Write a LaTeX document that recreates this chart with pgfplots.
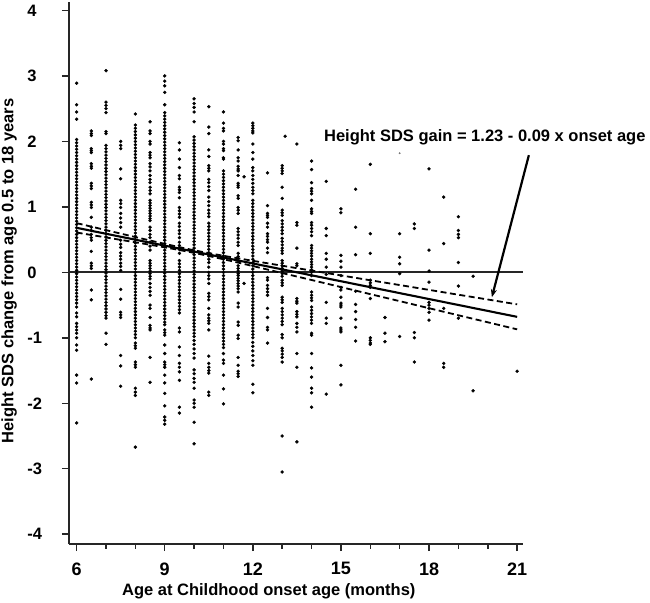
\documentclass[border=0pt]{standalone}
\usepackage{pgfplots}
\pgfplotsset{compat=1.18}
\usetikzlibrary{arrows.meta}
\usepackage{fontspec}
\setmainfont{Liberation Sans}
\begin{document}
\begin{tikzpicture}
\useasboundingbox (-69pt,-58pt) rectangle (581pt,544pt);
\begin{axis}[
  at={(0,0)}, anchor=south west,
  scale only axis, width=454pt, height=542pt,
  xmin=5.74, xmax=21.2, ymin=-4.15, ymax=4.13,
  axis lines=left,
  axis line style={-, line width=2.2pt, black!85},
  xtick={6,9,12,15,18,21},
  minor x tick num=2,
  ytick={-4,-3,-2,-1,0,1,2,3,4},
  tick align=outside,
  major tick length=7pt,
  minor tick length=4.5pt,
  every tick/.style={black!85, line width=1.5pt},
  /pgf/number format/assume math mode=true,
  xticklabel style={font=\bfseries\fontsize{18}{21}\selectfont, yshift=-8pt},
  yticklabel style={font=\bfseries\fontsize{16.5}{19}\selectfont, text width=18pt, align=left, xshift=-13pt},
  xlabel={\bfseries Age at Childhood onset age (months)},
  ylabel={\bfseries Height SDS change from age 0.5 to 18 years},
  label style={font=\bfseries\fontsize{16.5}{19}\selectfont},
  xlabel style={at={(axis description cs:0.44,-0.0867)}, anchor=center},
  ylabel style={at={(axis description cs:-0.132,0.504)}, anchor=center},
  clip=false,
  pts/.style={only marks, mark=*, mark size=1.5pt, black, mark options={draw=black, fill=black, line width=0.4pt}},
]
% zero line
\addplot[black!85, line width=1.7pt] coordinates {(5.74,0)(21.2,0)};

% ----- data columns -----
\addplot[pts] coordinates {(6,2.89)(6,2.56)(6,2.45)(6,2.34)(6,2.03)(6,1.98)(6,1.93)(6,1.88)(6,1.83)(6,1.78)(6,1.73)(6,1.68)(6,1.63)(6,1.58)(6,1.53)(6,1.48)(6,1.43)(6,1.38)(6,1.33)(6,1.28)(6,1.23)(6,1.18)(6,1.13)(6,1.08)(6,1.03)(6,0.98)(6,0.93)(6,0.88)(6,0.83)(6,0.78)(6,0.73)(6,0.68)(6,0.63)(6,0.58)(6,0.53)(6,0.48)(6,0.43)(6,0.38)(6,0.33)(6,0.28)(6,0.23)(6,0.18)(6,0.13)(6,0.08)(6,0.03)(6,-0.02)(6,-0.07)(6,-0.12)(6,-0.17)(6,-0.22)(6,-0.27)(6,-0.32)(6,-0.37)(6,-0.42)(6,-0.47)(6,-0.53)(6,-0.62)(6,-0.68)(6,-0.78)(6,-0.83)(6,-0.88)(6,-0.93)(6,-1.0)(6,-1.11)(6,-1.19)(6,-1.57)(6,-1.69)(6,-2.3)};

\addplot[pts] coordinates {(6.5,2.16)(6.5,2.12)(6.5,2.09)(6.5,1.89)(6.5,1.86)(6.5,1.83)(6.5,1.66)(6.5,1.62)(6.5,1.59)(6.5,1.36)(6.5,1.32)(6.5,1.28)(6.5,1.07)(6.5,1.03)(6.5,0.99)(6.5,0.84)(6.5,0.69)(6.5,0.64)(6.5,0.58)(6.5,0.53)(6.5,0.49)(6.5,0.32)(6.5,0.14)(6.5,0.1)(6.5,0.06)(6.5,-0.27)(6.5,-0.42)(6.5,-1.63)};

\addplot[pts] coordinates {(7,3.08)(7,2.6)(7,2.55)(7,2.5)(7,2.44)(7,2.15)(7,2.12)(7,1.94)(7,1.89)(7,1.84)(7,1.79)(7,1.74)(7,1.69)(7,1.64)(7,1.59)(7,1.54)(7,1.49)(7,1.44)(7,1.39)(7,1.34)(7,1.29)(7,1.24)(7,1.19)(7,1.14)(7,1.09)(7,1.04)(7,0.99)(7,0.94)(7,0.89)(7,0.84)(7,0.79)(7,0.74)(7,0.69)(7,0.64)(7,0.59)(7,0.54)(7,0.49)(7,0.44)(7,0.39)(7,0.34)(7,0.29)(7,0.24)(7,0.19)(7,0.14)(7,0.09)(7,0.04)(7,-0.01)(7,-0.06)(7,-0.11)(7,-0.16)(7,-0.21)(7,-0.26)(7,-0.31)(7,-0.36)(7,-0.41)(7,-0.46)(7,-0.51)(7,-0.56)(7,-0.61)(7,-0.66)(7,-0.7)(7,-0.93)(7,-1.1)};

\addplot[pts] coordinates {(7.5,2.0)(7.5,1.94)(7.5,1.89)(7.5,1.58)(7.5,1.43)(7.5,1.1)(7.5,1.05)(7.5,0.99)(7.5,0.9)(7.5,0.83)(7.5,0.76)(7.5,0.69)(7.5,0.49)(7.5,0.43)(7.5,0.38)(7.5,0.3)(7.5,0.25)(7.5,0.2)(7.5,0.14)(7.5,0.09)(7.5,0.03)(7.5,-0.26)(7.5,-0.41)(7.5,-0.61)(7.5,-0.65)(7.5,-0.69)(7.5,-1.27)(7.5,-1.43)(7.5,-1.74)};

\addplot[pts] coordinates {(8,2.42)(8,2.25)(8,2.2)(8,2.15)(8,2.1)(8,2.05)(8,2.0)(8,1.95)(8,1.9)(8,1.85)(8,1.8)(8,1.75)(8,1.7)(8,1.65)(8,1.6)(8,1.55)(8,1.5)(8,1.45)(8,1.4)(8,1.35)(8,1.3)(8,1.25)(8,1.2)(8,1.15)(8,1.1)(8,1.05)(8,1.0)(8,0.95)(8,0.9)(8,0.85)(8,0.8)(8,0.75)(8,0.7)(8,0.65)(8,0.6)(8,0.55)(8,0.5)(8,0.45)(8,0.4)(8,0.35)(8,0.3)(8,0.25)(8,0.2)(8,0.15)(8,0.1)(8,0.05)(8,0.0)(8,-0.05)(8,-0.1)(8,-0.15)(8,-0.2)(8,-0.25)(8,-0.3)(8,-0.35)(8,-0.4)(8,-0.45)(8,-0.5)(8,-0.55)(8,-0.6)(8,-0.65)(8,-0.7)(8,-0.75)(8,-0.8)(8,-0.85)(8,-0.9)(8,-0.95)(8,-1.0)(8,-1.08)(8,-1.12)(8,-1.16)(8,-1.37)(8,-1.41)(8,-1.45)(8,-1.77)(8,-1.83)(8,-1.88)(8,-2.67)};

\addplot[pts] coordinates {(8.5,2.3)(8.5,2.16)(8.5,2.12)(8.5,2.0)(8.5,1.96)(8.5,1.83)(8.5,1.79)(8.5,1.75)(8.5,1.66)(8.5,1.61)(8.5,1.55)(8.5,1.48)(8.5,1.42)(8.5,1.37)(8.5,1.3)(8.5,1.25)(8.5,1.2)(8.5,1.1)(8.5,1.06)(8.5,1.02)(8.5,0.98)(8.5,0.94)(8.5,0.9)(8.5,0.86)(8.5,0.82)(8.5,0.79)(8.5,0.69)(8.5,0.64)(8.5,0.58)(8.5,0.53)(8.5,0.46)(8.5,0.4)(8.5,0.34)(8.5,0.18)(8.5,0.14)(8.5,0.1)(8.5,0.06)(8.5,0.02)(8.5,-0.02)(8.5,-0.06)(8.5,-0.1)(8.5,-0.17)(8.5,-0.23)(8.5,-0.29)(8.5,-0.35)(8.5,-0.5)(8.5,-0.55)(8.5,-0.69)(8.5,-0.81)(8.5,-0.85)(8.5,-0.88)(8.5,-1.3)(8.5,-1.68)};

\addplot[pts] coordinates {(9,3.0)(9,2.92)(9,2.85)(9,2.75)(9,2.56)(9,2.44)(9,2.39)(9,2.34)(9,2.29)(9,2.24)(9,2.19)(9,2.14)(9,2.09)(9,2.04)(9,1.99)(9,1.94)(9,1.89)(9,1.84)(9,1.79)(9,1.74)(9,1.69)(9,1.64)(9,1.59)(9,1.54)(9,1.49)(9,1.44)(9,1.39)(9,1.34)(9,1.29)(9,1.24)(9,1.19)(9,1.14)(9,1.09)(9,1.04)(9,0.99)(9,0.94)(9,0.89)(9,0.84)(9,0.79)(9,0.74)(9,0.69)(9,0.64)(9,0.59)(9,0.54)(9,0.49)(9,0.44)(9,0.39)(9,0.34)(9,0.29)(9,0.24)(9,0.19)(9,0.14)(9,0.09)(9,0.04)(9,-0.01)(9,-0.06)(9,-0.11)(9,-0.16)(9,-0.21)(9,-0.26)(9,-0.31)(9,-0.36)(9,-0.41)(9,-0.46)(9,-0.51)(9,-0.56)(9,-0.61)(9,-0.66)(9,-0.71)(9,-0.76)(9,-0.8)(9,-0.88)(9,-0.92)(9,-0.96)(9,-1.11)(9,-1.24)(9,-1.37)(9,-1.41)(9,-1.45)(9,-1.57)(9,-1.69)(9,-1.85)(9,-2.04)(9,-2.21)(9,-2.26)(9,-2.32)};

\addplot[pts] coordinates {(9.5,1.98)(9.5,1.87)(9.5,1.73)(9.5,1.6)(9.5,1.48)(9.5,1.43)(9.5,1.3)(9.5,1.26)(9.5,1.22)(9.5,1.14)(9.5,0.99)(9.5,0.94)(9.5,0.89)(9.5,0.84)(9.5,0.75)(9.5,0.7)(9.5,0.64)(9.5,0.59)(9.5,0.53)(9.5,0.46)(9.5,0.41)(9.5,0.35)(9.5,0.29)(9.5,0.18)(9.5,0.13)(9.5,0.08)(9.5,0.03)(9.5,-0.02)(9.5,-0.07)(9.5,-0.12)(9.5,-0.17)(9.5,-0.22)(9.5,-0.27)(9.5,-0.32)(9.5,-0.37)(9.5,-0.42)(9.5,-0.47)(9.5,-0.52)(9.5,-0.57)(9.5,-0.62)(9.5,-0.85)(9.5,-0.91)(9.5,-1.14)(9.5,-1.27)(9.5,-1.39)(9.5,-1.45)(9.5,-1.52)(9.5,-1.65)(9.5,-2.06)(9.5,-2.15)};

\addplot[pts] coordinates {(10,2.65)(10,2.58)(10,2.52)(10,2.45)(10,2.3)(10,2.07)(10,2.02)(10,1.97)(10,1.92)(10,1.87)(10,1.82)(10,1.77)(10,1.72)(10,1.67)(10,1.62)(10,1.57)(10,1.52)(10,1.47)(10,1.42)(10,1.37)(10,1.32)(10,1.27)(10,1.22)(10,1.17)(10,1.12)(10,1.07)(10,1.02)(10,0.97)(10,0.92)(10,0.87)(10,0.82)(10,0.77)(10,0.72)(10,0.67)(10,0.62)(10,0.57)(10,0.52)(10,0.47)(10,0.42)(10,0.37)(10,0.32)(10,0.27)(10,0.22)(10,0.17)(10,0.12)(10,0.07)(10,0.02)(10,-0.03)(10,-0.08)(10,-0.13)(10,-0.18)(10,-0.23)(10,-0.28)(10,-0.33)(10,-0.38)(10,-0.43)(10,-0.48)(10,-0.53)(10,-0.58)(10,-0.63)(10,-0.68)(10,-0.73)(10,-0.78)(10,-0.83)(10,-0.88)(10,-0.93)(10,-0.98)(10,-1.04)(10,-1.1)(10,-1.17)(10,-1.24)(10,-1.31)(10,-1.49)(10,-1.55)(10,-1.62)(10,-1.68)(10,-1.77)(10,-1.95)(10,-2.0)(10,-2.06)(10,-2.29)(10,-2.62)};

\addplot[pts] coordinates {(10.5,2.53)(10.5,2.22)(10.5,2.12)(10.5,1.87)(10.5,1.77)(10.5,1.63)(10.5,1.59)(10.5,1.55)(10.5,1.42)(10.5,1.37)(10.5,1.31)(10.5,1.25)(10.5,1.15)(10.5,1.08)(10.5,1.02)(10.5,0.95)(10.5,0.9)(10.5,0.85)(10.5,0.75)(10.5,0.7)(10.5,0.65)(10.5,0.6)(10.5,0.55)(10.5,0.5)(10.5,0.45)(10.5,0.4)(10.5,0.35)(10.5,0.3)(10.5,0.25)(10.5,0.2)(10.5,0.15)(10.5,0.08)(10.5,0.0)(10.5,-0.05)(10.5,-0.1)(10.5,-0.17)(10.5,-0.32)(10.5,-0.37)(10.5,-0.42)(10.5,-0.55)(10.5,-0.65)(10.5,-0.7)(10.5,-0.74)(10.5,-0.78)(10.5,-0.88)(10.5,-1.28)(10.5,-1.39)(10.5,-1.45)(10.5,-1.5)(10.5,-1.54)(10.5,-1.83)(10.5,-1.88)};

\addplot[pts] coordinates {(11,2.45)(11,2.28)(11,2.2)(11,2.16)(11,2.0)(11,1.96)(11,1.89)(11,1.86)(11,1.75)(11,1.73)(11,1.55)(11,1.5)(11,1.45)(11,1.4)(11,1.35)(11,1.3)(11,1.25)(11,1.2)(11,1.15)(11,1.1)(11,1.05)(11,1.0)(11,0.95)(11,0.9)(11,0.85)(11,0.8)(11,0.75)(11,0.7)(11,0.65)(11,0.6)(11,0.55)(11,0.5)(11,0.45)(11,0.4)(11,0.35)(11,0.3)(11,0.25)(11,0.2)(11,0.15)(11,0.1)(11,0.05)(11,0.0)(11,-0.05)(11,-0.1)(11,-0.15)(11,-0.2)(11,-0.25)(11,-0.3)(11,-0.35)(11,-0.4)(11,-0.45)(11,-0.5)(11,-0.55)(11,-0.6)(11,-0.65)(11,-0.7)(11,-0.75)(11,-0.8)(11,-0.85)(11,-0.9)(11,-0.95)(11,-1.0)(11,-1.05)(11,-1.1)(11,-1.15)(11,-1.24)(11,-1.34)(11,-1.39)(11,-1.57)(11,-1.78)(11,-2.01)};

\addplot[pts] coordinates {(11.5,2.06)(11.5,2.01)(11.5,1.87)(11.5,1.75)(11.5,1.7)(11.5,1.62)(11.5,1.58)(11.5,1.55)(11.5,1.48)(11.5,1.36)(11.5,1.33)(11.5,1.3)(11.5,1.17)(11.5,1.13)(11.5,0.99)(11.5,0.95)(11.5,0.9)(11.5,0.67)(11.5,0.62)(11.5,0.57)(11.5,0.52)(11.5,0.46)(11.5,0.41)(11.5,0.29)(11.5,0.24)(11.5,0.18)(11.5,0.1)(11.5,0.06)(11.5,0.02)(11.5,-0.02)(11.5,-0.05)(11.5,-0.09)(11.5,-0.13)(11.5,-0.17)(11.5,-0.21)(11.5,-0.25)(11.5,-0.3)(11.5,-0.47)(11.5,-0.53)(11.5,-0.76)(11.5,-0.81)(11.5,-0.96)(11.5,-1.01)(11.5,-1.3)(11.5,-1.42)(11.5,-1.51)(11.5,-1.55)(11.5,-1.59)(11.7,1.46)(11.7,-0.17)};

\addplot[pts] coordinates {(12,2.28)(12,2.24)(12,2.2)(12,2.16)(12,2.13)(12,1.96)(12,1.83)(12,1.73)(12,1.6)(12,1.55)(12,1.48)(12,1.42)(12,1.36)(12,1.3)(12,1.25)(12,1.2)(12,1.1)(12,1.05)(12,1.0)(12,0.95)(12,0.9)(12,0.85)(12,0.8)(12,0.75)(12,0.7)(12,0.65)(12,0.6)(12,0.55)(12,0.5)(12,0.45)(12,0.4)(12,0.35)(12,0.3)(12,0.25)(12,0.2)(12,0.15)(12,0.1)(12,0.05)(12,0.0)(12,-0.05)(12,-0.1)(12,-0.15)(12,-0.2)(12,-0.25)(12,-0.3)(12,-0.35)(12,-0.4)(12,-0.45)(12,-0.5)(12,-0.55)(12,-0.6)(12,-0.65)(12,-0.7)(12,-0.75)(12,-0.8)(12,-0.85)(12,-0.9)(12,-0.95)(12,-1.0)(12,-1.07)(12,-1.13)(12,-1.2)(12,-1.27)(12,-1.35)(12,-1.42)(12,-1.71)(12,-1.84)};

\addplot[pts] coordinates {(12.5,1.52)(12.5,1.02)(12.5,0.9)(12.5,0.87)(12.5,0.84)(12.5,0.75)(12.5,0.69)(12.5,0.59)(12.5,0.55)(12.5,0.5)(12.5,0.46)(12.5,0.37)(12.5,0.3)(12.5,-0.08)(12.5,-0.12)(12.5,-0.2)(12.5,-0.25)(12.5,-0.3)(12.5,-0.35)(12.5,-0.55)(12.5,-0.69)(12.5,-0.84)(12.5,-0.88)(12.5,-1.08)};

\addplot[pts] coordinates {(13,1.63)(13,1.59)(13,1.55)(13,1.51)(13,1.3)(13,1.13)(13,0.95)(13,0.91)(13,0.87)(13,0.79)(13,0.74)(13,0.69)(13,0.64)(13,0.59)(13,0.52)(13,0.47)(13,0.42)(13,0.37)(13,0.33)(13,0.29)(13,0.18)(13,0.14)(13,0.1)(13,0.06)(13,0.02)(13,-0.02)(13,-0.06)(13,-0.12)(13,-0.16)(13,-0.2)(13,-0.38)(13,-0.42)(13,-0.46)(13,-0.55)(13,-0.6)(13,-0.65)(13,-0.7)(13,-0.75)(13,-0.8)(13,-0.95)(13,-1.0)(13,-1.16)(13,-1.2)(13,-1.25)(13,-1.3)(13,-1.37)(13,-2.5)(13,-3.05)};

\addplot[pts] coordinates {(13.1,2.08)(13.5,1.96)(13.5,0.76)(13.5,0.72)(13.5,0.37)(13.5,0.13)(13.5,0.1)(13.5,-0.4)(13.5,-0.44)(13.5,-0.47)(13.5,-0.6)(13.5,-0.64)(13.5,-0.68)(13.5,-0.78)(13.5,-0.84)(13.5,-0.91)(13.5,-1.24)(13.5,-1.45)(13.5,-2.59)};

\addplot[pts] coordinates {(14,1.7)(14,1.57)(14,1.37)(14,1.28)(14,1.24)(14,1.2)(14,1.1)(14,0.97)(14,0.93)(14,0.9)(14,0.76)(14,0.72)(14,0.67)(14,0.62)(14,0.56)(14,0.41)(14,0.37)(14,0.33)(14,0.29)(14,0.25)(14,0.2)(14,0.16)(14,0.12)(14,0.08)(14,0.04)(14,0.0)(14,-0.05)(14,-0.3)(14,-0.35)(14,-0.39)(14,-0.43)(14,-0.53)(14,-0.58)(14,-0.63)(14,-0.68)(14,-0.73)(14,-0.78)(14,-0.93)(14,-0.96)(14,-1.24)(14,-1.46)(14,-1.6)(14,-1.77)(14,-1.84)(14,-2.06)};

\addplot[pts] coordinates {(14.5,1.39)(14.5,0.67)(14.5,0.56)(14.5,0.29)(14.5,0.2)(14.5,0.08)(14.5,-0.03)(14.5,-0.46)(14.5,-0.7)(14.5,-0.78)(14.5,-1.86)};

\addplot[pts] coordinates {(15,0.97)(15,0.91)(15,0.26)(15,0.17)(15,0.08)(15,-0.05)(15,-0.23)(15,-0.27)(15,-0.38)(15,-0.47)(15,-0.5)(15,-0.53)(15,-0.7)(15,-0.85)(15,-0.88)(15,-0.91)(15,-1.42)(15,-1.72)};

\addplot[pts] coordinates {(15.5,1.27)(15.5,0.69)(15.5,0.27)(15.5,-0.29)(15.5,-0.49)(15.5,-0.6)(15.5,-0.72)(15.5,-0.84)(15.5,-1.05)};

\addplot[pts] coordinates {(16,1.65)(16,0.59)(16,0.29)(16,-0.12)(16,-0.16)(16,-0.2)(16,-0.23)(16,-0.4)(16,-1.0)(16,-1.04)(16,-1.08)(16,-1.1)};

\addplot[pts] coordinates {(16.5,-0.69)(16.5,-0.93)(16.5,-1.06)(17,0.59)(17,0.23)(17,0.13)(17,-0.02)(17,-0.98)(17.5,0.74)(17.5,0.67)(17.5,-0.92)(17.5,-1.0)(17.5,-1.37)};

\addplot[only marks, mark=*, mark size=0.7pt, black!55] coordinates {(17,1.82)};

\addplot[pts] coordinates {(18,1.58)(18,0.34)(18,0.02)(18,-0.15)(18,-0.46)(18,-0.5)(18,-0.55)(18,-0.61)(18,-0.73)(18.5,1.15)(18.5,0.44)(18.5,-0.55)(18.5,-1.39)(18.5,-1.45)(19,0.85)(19,0.64)(19,0.58)(19,0.53)(19,0.15)(19,-0.21)(19,-0.7)(19.5,-0.06)(19.5,-1.81)(21,-1.51)};

% ----- regression line and confidence band -----
\addplot[black, line width=2.1pt] coordinates {(6,0.68)(21,-0.68)};
\addplot[black, line width=1.8pt, dash pattern=on 6pt off 3.5pt, smooth] coordinates {(6,0.752)(7,0.645)(8,0.539)(9,0.435)(10,0.337)(11,0.253)(12,0.176)(13,0.101)(14,0.027)(15,-0.047)(16,-0.121)(17,-0.194)(18,-0.268)(19,-0.342)(20,-0.415)(21,-0.489)};
\addplot[black, line width=1.8pt, dash pattern=on 6pt off 3.5pt, smooth] coordinates {(6,0.608)(7,0.533)(8,0.459)(9,0.382)(10,0.297)(11,0.200)(12,0.096)(13,-0.011)(14,-0.117)(15,-0.225)(16,-0.333)(17,-0.440)(18,-0.548)(19,-0.656)(20,-0.763)(21,-0.871)};

% annotation
\node[font=\bfseries\fontsize{16.5}{19}\selectfont, anchor=west, inner sep=0pt] at (axis cs:14.42,2.07) {Height SDS gain = 1.23 - 0.09 x onset age};
\draw[black, line width=2.2pt, -{Stealth[length=8pt,width=6pt]}] (axis cs:21.40,1.79) -- (axis cs:20.14,-0.38);
\end{axis}
\end{tikzpicture}
\end{document}
